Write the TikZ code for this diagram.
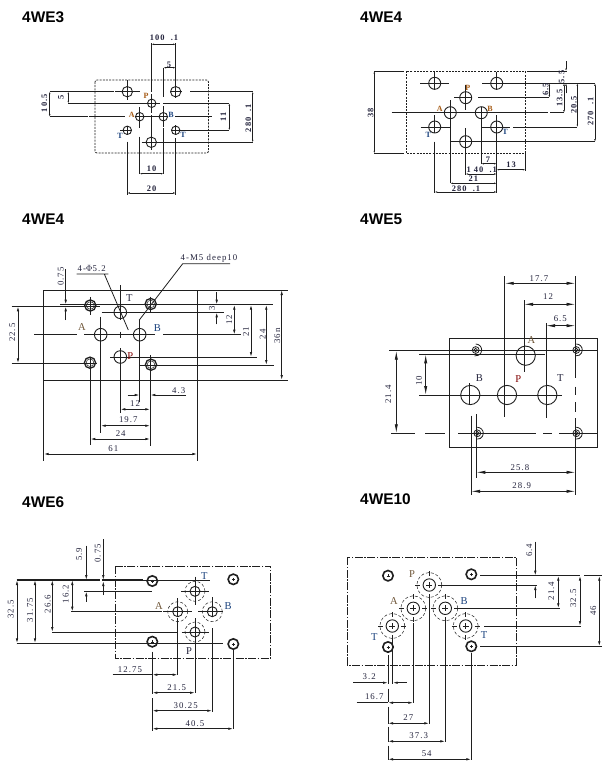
\documentclass[tikz,border=0pt]{standalone}
\usepackage{fontspec}
\usetikzlibrary{arrows.meta}
\setmainfont{Liberation Serif}
\newfontfamily\headfont{Liberation Sans}[Scale=1]
\newfontfamily\numfont{Liberation Serif}[LetterSpace=12]
\definecolor{numcol}{RGB}{35,35,60}
\definecolor{portorange}{RGB}{165,90,20}
\definecolor{portbrown}{RGB}{110,85,55}
\definecolor{portblue}{RGB}{25,65,125}
\tikzset{
  head/.style={font=\headfont\bfseries\fontsize{15.4}{18}\selectfont,anchor=west,inner sep=0pt},
  num/.style={font=\numfont\fontsize{8.8}{10}\selectfont,text=numcol,inner sep=0pt},
  vnum/.style={num,rotate=90},
  bnum/.style={font=\numfont\bfseries\fontsize{8.4}{10}\selectfont,text=numcol,inner sep=0pt},
  bvnum/.style={bnum,rotate=90},
  port/.style={font=\fontsize{10.5}{12}\selectfont,inner sep=0pt},
  smallport/.style={font=\bfseries\fontsize{8}{10}\selectfont,inner sep=0pt},
  ln/.style={line width=.8pt,black!88},
  dim/.style={ln,<->,>={Latex[length=5pt,width=2.5pt]}},
  sdim/.style={ln,<->,>={Latex[length=2.5pt,width=1.6pt]}},
  ldim/.style={ln,<->,>={Latex[length=9pt,width=3.2pt]}},
  tip/.style={ln,->,>={Latex[length=5pt,width=2.5pt]}},
  stip/.style={ln,->,>={Latex[length=2.5pt,width=1.6pt]}},
}
\begin{document}
\begin{tikzpicture}[x=1pt,y=-1pt]
\useasboundingbox (0,0) rectangle (615,771);
% headings
\node[head] (h3) at (22,17.5) {4WE3};
\node[head] (h4a) at (360,17.5) {4WE4};
\node[head] (h4b) at (22,219) {4WE4};
\node[head] (h5) at (360,219) {4WE5};
\node[head] (h6) at (22,502) {4WE6};
\node[head] (h10) at (360,499.5) {4WE10};

% 4WE3
\draw[ln,dash pattern=on 2pt off 1.2pt,rounded corners=2pt] (95,80) rectangle (208.5,153);
\foreach \x/\y in {127.3/91.7,175.7/91.7,151.3/142.3} \draw[ln,line width=.9pt] (\x,\y) circle[radius=5.2pt];
\foreach \x/\y in {151.7/103.3,139.7/116.7,163.3/116.7,127.3/130.3,175.7/130.3} \draw[ln,line width=.9pt] (\x,\y) circle[radius=4.2pt];
\draw[ln] (49.5,91.7) -- (113.5,91.7) (115,91.7) -- (140,91.7) (170,91.7) -- (182,91.7) (190,91.7) -- (253,91.7);
\draw[ln] (68.3,103.3) -- (140,103.3) (138,103.3) -- (160,103.3) (163.3,103.3) -- (229.3,103.3);
\draw[ln] (49.5,116.7) -- (88.3,116.7) (89.3,116.7) -- (125,116.7) (135,116.7) -- (168,116.7) (175,116.7) -- (211.7,116.7);
\draw[ln] (120,130.3) -- (131.7,130.3) (171,130.3) -- (229.3,130.3);
\draw[ln] (141.7,142.3) -- (253,142.3);
\draw[ln] (127.3,80) -- (127.3,100) (127.3,126) -- (127.3,135) (127.3,141.7) -- (127.3,195);
\draw[ln] (175.7,43) -- (175.7,98) (175.7,125) -- (175.7,135) (175.7,138) -- (175.7,195);
\draw[ln] (151.5,43) -- (151.5,92) (151.5,94) -- (151.5,113) (151.5,115) -- (151.5,150);
\draw[ln] (163.5,67.7) -- (163.5,96.7) (163.5,106) -- (163.5,127) (163.5,128.3) -- (163.5,174);
\draw[ln] (139.7,107) -- (139.7,128.3) (139.7,136.7) -- (139.7,174);
\draw[sdim] (151.5,44.3) -- (175.7,44.3);
\draw[sdim] (163.5,67.7) -- (175.7,67.7);
\draw[sdim] (139.7,173.7) -- (163.5,173.7);
\draw[sdim] (127.3,193) -- (175.7,193);
\draw[sdim] (49.7,91.7) -- (49.7,116.7);
\draw[sdim] (68.3,91.7) -- (68.3,103.3);
\draw[sdim] (229.3,103.3) -- (229.3,130.3);
\draw[sdim] (252.7,91.7) -- (252.7,142.3);
\node[bnum] (n100) at (164,38) {100\ \ .1};
\node[bnum] (n5t) at (169,64.5) {5};
\node[bvnum] (n105) at (44.3,103.3) {10.5};
\node[bvnum] (n5l) at (61,97.7) {5};
\node[bvnum] (n11) at (223.3,116.7) {11};
\node[bvnum] (n280) at (248.3,118) {280\ \ .1};
\node[bnum] (n10) at (151.7,169) {10};
\node[bnum] (n20) at (151.7,189) {20};
\node[smallport,text=portorange] (p3) at (146,96) {P};
\node[smallport,text=portorange] (a3) at (131.7,115) {A};
\node[smallport,text=portblue] (b3) at (171,115) {B};
\node[smallport,text=portblue] (t3a) at (120,136) {T};
\node[smallport,text=portblue] (t3b) at (183,135) {T};

% 4WE4 top
\draw[ln,dash pattern=on 2pt off 1.2pt] (406,71) rectangle (525.3,153.3);
\foreach \x/\y in {434.7/83.3,496.7/83.3,465.7/97.7,450.3/112.7,481.3/112.7,434.7/127,496.7/127,465.7/141.7} \draw[ln,line width=.9pt] (\x,\y) circle[radius=6pt];
\draw[ln] (374.3,71) -- (404.3,71) (526.7,71) -- (567.3,71);
\draw[ln] (374.3,153.3) -- (404.3,153.3);
\draw[ln] (420,83.3) -- (449.3,83.3) (482.3,83.3) -- (595,83.3);
\draw[ln] (454,97.7) -- (471.7,97.7) (478.3,97.7) -- (549.3,97.7);
\draw[ln] (391.7,112.7) -- (548,112.7) (550,112.7) -- (564,112.7);
\draw[ln] (420.7,127) -- (450,127) (481.7,127) -- (510,127) (513.3,127) -- (577.3,127);
\draw[ln] (451,141.7) -- (595,141.7);
\draw[ln] (434.7,71) -- (434.7,90) (434.7,115) -- (434.7,133) (434.7,141.7) -- (434.7,192.7);
\draw[ln] (496.7,71.7) -- (496.7,90) (496.7,115) -- (496.7,192.7);
\draw[ln] (465.7,85) -- (465.7,110) (465.7,128.3) -- (465.7,175);
\draw[ln] (450.3,100) -- (450.3,183.3);
\draw[ln] (481.3,106.7) -- (481.3,164.3);
\draw[ln] (525.3,153) -- (525.3,170.7);
\draw[sdim] (374.3,71) -- (374.3,153.3);
\draw[stip] (566,61) -- (566,71);
\draw[stip] (566,93.3) -- (566,83.3);
\draw[sdim] (549.3,83.3) -- (549.3,97.7);
\draw[sdim] (564,83.3) -- (564,112.7);
\draw[sdim] (577.3,83.3) -- (577.3,127);
\draw[sdim] (595,83.3) -- (595,141.7);
\draw[sdim] (481.3,163.7) -- (496.7,163.7);
\draw[sdim] (465.7,174) -- (496.7,174);
\draw[sdim] (496.7,169.7) -- (525.3,169.7);
\draw[sdim] (450.3,183.3) -- (496.7,183.3);
\draw[sdim] (434.7,192) -- (496.7,192);
\node[bvnum] (m38) at (370.7,113) {38};
\node[bvnum] (m55) at (561.7,77) {5.5};
\node[bvnum] (m65) at (545.7,89.3) {6.5};
\node[bvnum] (m135) at (559.7,97.7) {13.5};
\node[bvnum] (m205) at (574,105) {20.5};
\node[bvnum] (m270) at (590.7,111.7) {270\ \ .1};
\node[bnum] (m7) at (488,159.3) {7};
\node[bnum] (m140) at (481.7,169.3) {1 40\ \ .1};
\node[bnum] (m13) at (511,165) {13};
\node[bnum] (m21) at (473.3,179) {21};
\node[bnum] (m280) at (466,188.3) {280\ \ .1};
\node[smallport,text=portorange] (p4) at (467.7,88) {P};
\node[smallport,text=portorange] (a4) at (439.7,109.3) {A};
\node[smallport,text=portorange] (b4) at (490,108.7) {B};
\node[smallport,text=portblue] (t4a) at (428.3,135) {T};
\node[smallport,text=portblue] (t4b) at (505,132.3) {T};

% 4WE4 lower
\draw[ln] (43.7,290) rectangle (197.3,380);
\draw[ln] (197.3,290) -- (287.7,290) (197.3,380) -- (287.7,380);
\draw[ln] (43.7,380) -- (43.7,461) (197.3,380) -- (197.3,461);
\foreach \x/\y in {90.3/305.5,150.7/304,90/362.7,151/364.7} {
  \draw[ln,line width=1.3pt] (\x,\y) circle[radius=5.6pt];
  \draw[ln,line width=.5pt] (\x,\y) circle[radius=3.8pt];
}
\foreach \x/\y in {120.3/312.3,100.7/334.7,139.7/334.7,120.3/357} \draw[ln,line width=.9pt] (\x,\y) circle[radius=6.3pt];
\draw[ln] (11.7,306.3) -- (100,306.3) (60,304.7) -- (273,304.7);
\draw[ln] (101.7,312.3) -- (224,312.3);
\draw[ln] (34.3,334.7) -- (77.3,334.7) (84.3,334.7) -- (155,334.7) (163.3,334.7) -- (240.7,334.7);
\draw[ln] (110,357) -- (257.3,357);
\draw[ln] (11.7,363.3) -- (96.7,363.3);
\draw[ln] (140,365) -- (274,365);
\draw[ln] (90.3,297) -- (90.3,315) (90.3,356.7) -- (90.3,445);
\draw[ln] (100.7,316.7) -- (100.7,432.7);
\draw[ln] (120.3,285) -- (120.3,320) (120.3,331.7) -- (120.3,337.7) (120.3,348) -- (120.3,413);
\draw[ln] (139.7,320) -- (139.7,401.7);
\draw[ln] (150.3,296.7) -- (150.3,313) (150.3,355) -- (150.3,445.7);
\draw[tip] (65.7,269) -- (65.7,304.7);
\draw[tip] (65.7,320) -- (65.7,306.3);
\draw[dim] (18,306.3) -- (18,363.3);
\draw[tip] (216.7,292) -- (216.7,304.7);
\draw[tip] (216.7,324.3) -- (216.7,312.3);
\draw[dim] (234.3,304.7) -- (234.3,334.7);
\draw[dim] (251,304.7) -- (251,357);
\draw[dim] (266.3,304.7) -- (266.3,365);
\draw[dim] (281.7,290) -- (281.7,380);
\draw[tip] (127.7,395) -- (139.7,395);
\draw[tip] (186,395) -- (150.3,395);
\draw[dim] (120.3,409.3) -- (150.3,409.3);
\draw[dim] (100.7,425.7) -- (150.3,425.7);
\draw[dim] (90.3,439) -- (150.3,439);
\draw[dim] (43.7,454) -- (197.3,454);
\draw[ln] (76.7,274) -- (108.3,274) (104.3,274) -- (128.3,330);
\draw[ln] (182.7,263.7) -- (230,263.7) (182.7,263.7) -- (139.3,320);
\node[num] (k5) at (91.7,268.3) {4-$\Phi$5.2};
\node[num] (km5) at (209,258.3) {4-M5 deep10};
\node[vnum] (k075) at (60.7,276.7) {0.75};
\node[vnum] (k225) at (12.3,332.7) {22.5};
\node[vnum] (k3) at (212,308.7) {3};
\node[vnum] (k12a) at (229.3,320) {12};
\node[vnum] (k21) at (246,331.7) {21};
\node[vnum] (k24a) at (262.7,334.3) {24};
\node[vnum] (k36) at (277.3,336) {36n};
\node[num] (k43) at (178.7,390.3) {4.3};
\node[num] (k12b) at (135,404) {12};
\node[num] (k197) at (128.3,420) {19.7};
\node[num] (k24b) at (120.7,434) {24};
\node[num] (k61) at (113.3,449) {61};
\node[port,text=portbrown] (a5) at (82,327.3) {A};
\node[port,text=portblue] (b5) at (157.3,327.7) {B};
\node[port,text=numcol] (t5) at (129.3,297.7) {T};
\node[port,text=red!50!black] (p5) at (130.3,355.7) {P};

% 4WE5
\draw[ln] (449.7,338.7) rectangle (597.7,447.3);
\foreach \x/\y in {475.7/350,576.3/350,477.3/433.3,576.3/433.3} {
  \draw[ln] (\x,\y) circle[radius=3.4pt] circle[radius=1.7pt];
  \draw[ln] (\x,\y) ++(0,-6) arc[start angle=90,end angle=-100,radius=6pt];
}
\foreach \x/\y in {525.7/355.7,470.3/395,507/395,547.3/395} \draw[ln,line width=.9pt] (\x,\y) circle[radius=9.6pt];
\draw[ln] (389.3,350.7) -- (596.7,350.7);
\draw[ln] (419.3,354.3) -- (545,354.3);
\draw[ln] (419.3,395) -- (561.7,395);
\draw[ln] (391,433.3) -- (415,433.3) (425,433.3) -- (445,433.3) (458.3,433.3) -- (535.7,433.3) (543.3,433.3) -- (552.3,433.3) (559.3,433.3) -- (597.3,433.3);
\draw[ln] (504.7,276) -- (504.7,416.7);
\draw[ln] (524,300) -- (524,371.7);
\draw[ln] (546,323.3) -- (546,418.3);
\draw[ln] (469.5,383.3) -- (469.5,405) (471,415.7) -- (471,495);
\draw[ln] (476.3,414.3) -- (476.3,478.3);
\draw[ln] (575.5,276) -- (575.5,378.3) (575.5,386.7) -- (575.5,395) (575.5,402) -- (575.5,412) (575.5,418) -- (575.5,495);
\draw[ldim] (504.7,283.3) -- (575.5,283.3);
\draw[ldim] (524,304.3) -- (575.5,304.3);
\draw[ldim] (546,325.7) -- (575.5,325.7);
\draw[ldim] (425.7,354.3) -- (425.7,395);
\draw[ldim] (396.3,350.7) -- (396.3,433.3);
\draw[ldim] (476.3,472.3) -- (575.5,472.3);
\draw[ldim] (471,491.3) -- (575.5,491.3);
\node[num] (q177) at (539,278.3) {17.7};
\node[num] (q12) at (548,297) {12};
\node[num] (q65) at (560.3,318.3) {6.5};
\node[vnum] (q10) at (419,380.7) {10};
\node[vnum] (q214) at (388.3,394.3) {21.4};
\node[num] (q258) at (520,467.3) {25.8};
\node[num] (q289) at (521.7,486) {28.9};
\node[port,text=portbrown] (a6) at (531.3,340) {A};
\node[port,text=numcol] (b6) at (479.3,378.3) {B};
\node[port,text=red!50!black] (p6) at (518.3,379) {P};
\node[port,text=numcol] (t6) at (560.3,378.3) {T};

% 4WE6
\draw[ln,dash pattern=on 8pt off 1.5pt on 1.5pt off 1.5pt] (115,566) rectangle (270.7,658);
\foreach \x/\y in {152.3/581,233.3/579.3,152.3/641.7,233.3/644} {
  \draw[ln,line width=1.6pt] (\x,\y) circle[radius=5.2pt];
  \draw[ln,line width=.4pt] (\x-1.5,\y) -- (\x+1.5,\y) (\x,\y-1.5) -- (\x,\y+1.5);
}
\foreach \x/\y in {195/591.3,177.7/611.7,212.3/611.7,195/632} {
  \draw[ln,line width=.9pt] (\x,\y) circle[radius=5pt];
  \draw[ln,line width=.5pt,densely dashed] (\x,\y) circle[radius=10pt];
  \draw[ln,line width=.5pt] (\x-1.5,\y) -- (\x+1.5,\y) (\x,\y-1.5) -- (\x,\y+1.5);
}
\draw[ln,line width=1.1pt] (16.7,580) -- (100,580) (101.7,580) -- (143,580);
\draw[ln] (143,580) -- (210,580);
\draw[ln] (84.3,591.3) -- (152,591.3) (181,591.3) -- (209,591.3);
\draw[ln] (71,611.7) -- (161.7,611.7) (163.3,611.7) -- (191.7,611.7) (198,611.7) -- (223,611.7);
\draw[ln] (52.3,632) -- (176.7,632) (181.7,632) -- (209.3,632);
\draw[ln,line width=1.1pt] (16.7,643.3) -- (143,643.3);
\draw[ln] (143,643.3) -- (223,643.3);
\draw[ln] (152.3,651.7) -- (152.3,694) (152.3,698) -- (152.3,730.7);
\draw[ln] (177.7,598) -- (177.7,617) (177.7,618) -- (177.7,675);
\draw[ln] (195,576.7) -- (195,605) (195,618) -- (195,693.3);
\draw[ln] (212.3,597) -- (212.3,617) (212.3,628) -- (212.3,711.7);
\draw[ln] (233.3,650) -- (233.3,729);
\draw[tip] (103.3,539.3) -- (103.3,580);
\draw[tip] (103.3,595) -- (103.3,581);
\draw[tip] (86.3,545.7) -- (86.3,580);
\draw[tip] (86.3,601.7) -- (86.3,591.3);
\draw[dim] (72.3,580) -- (72.3,611.7);
\draw[dim] (52.3,580) -- (52.3,632);
\draw[dim] (35,580) -- (35,643.3);
\draw[dim] (17,580) -- (17,643.3);
\draw[ln] (112.7,674.7) -- (152.3,674.7);
\draw[dim] (152.3,674.7) -- (177.7,674.7);
\draw[dim] (152.3,692.7) -- (195,692.7);
\draw[dim] (152.3,710.7) -- (212.3,710.7);
\draw[dim] (152.3,728.7) -- (233.3,728.7);
\node[vnum] (s075) at (97.7,553.3) {0.75};
\node[vnum] (s59) at (79,554.3) {5.9};
\node[vnum] (s162) at (65.7,594) {16.2};
\node[vnum] (s266) at (47.7,604) {26.6};
\node[vnum] (s3175) at (30,610) {31.75};
\node[vnum] (s325) at (10.7,609.3) {32.5};
\node[num] (s1275) at (130,669.3) {12.75};
\node[num] (s215) at (176.7,687.3) {21.5};
\node[num] (s3025) at (185.7,705.3) {30.25};
\node[num] (s405) at (195,723.3) {40.5};
\node[port,text=portblue] (t7) at (204.3,575.7) {T};
\node[port,text=portbrown] (a7) at (159,605.7) {A};
\node[port,text=portblue] (b7) at (228,605.7) {B};
\node[port,text=numcol] (p7) at (189,650.7) {P};

% 4WE10
\draw[ln,dash pattern=on 8pt off 1.5pt on 1.5pt off 1.5pt] (347.3,557.3) rectangle (516,665);
\foreach \x/\y in {388/575.7,471.3/574.3,388/647,471.3/646.3} {
  \draw[ln,line width=1.6pt] (\x,\y) circle[radius=5.2pt];
  \draw[ln,line width=.4pt] (\x-1.5,\y) -- (\x+1.5,\y) (\x,\y-1.5) -- (\x,\y+1.5);
}
\foreach \x/\y in {429.3/585,413.3/608.3,445.3/608.3,392.3/626,465.7/626} {
  \draw[ln,line width=.9pt] (\x,\y) circle[radius=6.2pt];
  \draw[ln,line width=.5pt,densely dashed] (\x,\y) circle[radius=12.5pt];
  \draw[ln,line width=.5pt] (\x-3,\y) -- (\x+3,\y) (\x,\y-3) -- (\x,\y+3);
  \draw[ln,line width=.5pt] (\x-14,\y) -- (\x-9,\y) (\x+9,\y) -- (\x+14,\y) (\x,\y-14) -- (\x,\y-9) (\x,\y+9) -- (\x,\y+14);
}
\draw[ln] (480,575.7) -- (580,575.7) (584,575.7) -- (601.7,575.7);
\draw[ln] (442.7,585) -- (536.7,585);
\draw[ln] (458.3,608.3) -- (560,608.3);
\draw[ln] (484.3,626) -- (580.7,626);
\draw[ln] (480,646.3) -- (601.7,646.3);
\draw[ln] (388,655) -- (388,684.3) (388,688.7) -- (388,702) (388,706.7) -- (388,724.3) (388,726.7) -- (388,741.7) (388,745.7) -- (388,760);
\draw[ln] (392.7,640) -- (392.7,684);
\draw[ln] (413.3,623) -- (413.3,703.3);
\draw[ln] (429.3,596.7) -- (429.3,723.7);
\draw[ln] (445.3,621.7) -- (445.3,741.7);
\draw[ln] (471.3,653) -- (471.3,760);
\draw[tip] (535.3,541.7) -- (535.3,575.7);
\draw[tip] (535.3,598.3) -- (535.3,585);
\draw[dim] (558.3,575.7) -- (558.3,608.3);
\draw[dim] (580,575.7) -- (580,626);
\draw[dim] (599.3,575.7) -- (599.3,646.3);
\draw[tip] (353.3,682.7) -- (388,682.7);
\draw[tip] (406.7,682.7) -- (392.7,682.7);
\draw[ln] (356.7,702.7) -- (388,702.7);
\draw[dim] (388,702.7) -- (413.3,702.7);
\draw[dim] (388,723.3) -- (429.3,723.3);
\draw[dim] (388,741.3) -- (445.3,741.3);
\draw[dim] (388,759.3) -- (471.3,759.3);
\node[vnum] (u64) at (529.3,550.3) {6.4};
\node[vnum] (u214) at (551.3,591) {21.4};
\node[vnum] (u325) at (573.3,598.3) {32.5};
\node[vnum] (u46) at (593.3,611) {46};
\node[num] (u32) at (369.3,677) {3.2};
\node[num] (u167) at (374.3,696.3) {16.7};
\node[num] (u27) at (408.3,717.7) {27};
\node[num] (u373) at (418.7,735.3) {37.3};
\node[num] (u54) at (426.7,753.3) {54};
\node[port,text=portbrown] (p8) at (412,573.7) {P};
\node[port,text=portbrown] (a8) at (394,600.7) {A};
\node[port,text=portblue] (b8) at (464,600.7) {B};
\node[port,text=portblue] (t8a) at (374.3,637.3) {T};
\node[port,text=portblue] (t8b) at (484,635.3) {T};
\end{tikzpicture}
\end{document}
